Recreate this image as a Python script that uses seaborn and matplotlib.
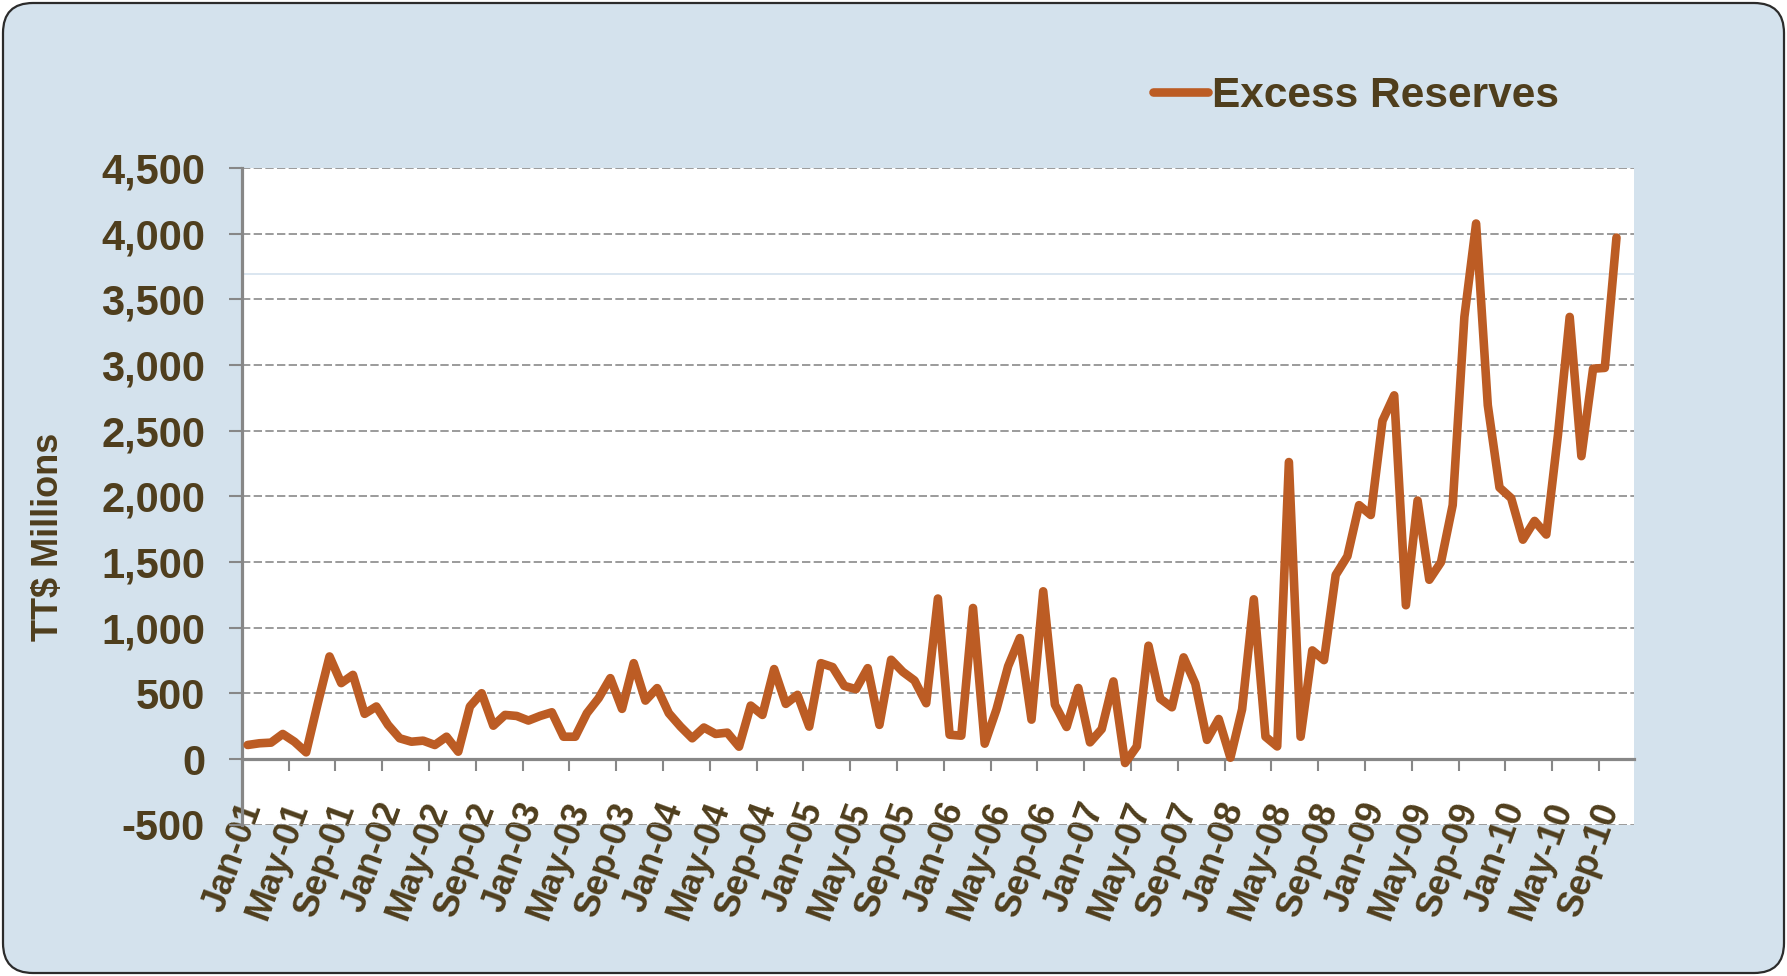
import pandas as pd
import matplotlib
matplotlib.use("Agg")
import matplotlib.pyplot as plt
from matplotlib.patches import FancyBboxPatch
from matplotlib.ticker import FuncFormatter
import seaborn as sns

# monthly excess reserves, TT$ millions, Jan-01 .. Oct-10
excess_reserves = [
    107, 120, 125, 191, 132, 51, 425, 781, 578, 641, 344, 400,
    260, 158, 132, 140, 107, 170, 56, 400, 501, 254, 336, 328,
    293, 328, 356, 170, 170, 349, 463, 616, 382, 730, 445, 540,
    349, 247, 158, 240, 191, 201, 94, 407, 336, 685, 420, 489,
    247, 730, 700, 557, 532, 692, 260, 756, 664, 598, 425, 1222,
    185, 178, 1150, 117, 376, 706, 921, 300, 1277, 414, 244, 541,
    127, 228, 591, -30, 96, 863, 460, 394, 774, 573, 146, 305,
    10, 379, 1216, 170, 96, 2261, 170, 827, 753, 1401, 1544, 1933,
    1858, 2575, 2769, 1171, 1968, 1365, 1499, 1933, 3366, 4077, 2694, 2067,
    1986, 1670, 1813, 1709, 2470, 3366, 2306, 2972, 2978, 3970,
]
# category axis runs Jan-01 .. Nov-10 (last category empty)
months = pd.date_range("2001-01-01", periods=119, freq="MS")
month_labels = [m.strftime("%b-%y") for m in months]
y_ticks = list(range(-500, 5000, 500))

line_color = "#BC5C24"
text_color = "#4F3E1D"
bg_color = "#D4E2ED"
axis_gray = "#878787"

sns.set_theme(style="white")
plt.rcParams["font.family"] = ["Liberation Sans", "DejaVu Sans"]
plt.rcParams["font.weight"] = "bold"

fig = plt.figure(figsize=(17.87, 9.76), dpi=100, facecolor="white")
fig.patches.append(FancyBboxPatch(
    (0.03, 0.03), 17.81, 9.70, boxstyle="round,pad=0,rounding_size=0.3",
    transform=fig.dpi_scale_trans, fc=bg_color, ec="#2B2B2B", lw=1.6, zorder=-10))

ax = fig.add_axes([0.1353, 0.155, 0.9144 - 0.1353, 0.8279 - 0.155])
ax.set_facecolor("white")

df = pd.DataFrame({"pos": range(len(excess_reserves)), "value": excess_reserves})
sns.lineplot(data=df, x="pos", y="value", ax=ax, color=line_color, lw=6.2,
             label="Excess Reserves", solid_joinstyle="round", solid_capstyle="round",
             zorder=5)

# faint stray line seen in the source image
ax.axhline(3690, color=bg_color, lw=1.2, zorder=1)

ax.set_xlim(-0.5, len(months) - 0.5)
ax.set_ylim(-500, 4500)
ax.set_yticks(y_ticks)
ax.yaxis.set_major_formatter(FuncFormatter(lambda v, p: f"{v:,.0f}"))
ax.yaxis.grid(True, linestyle=(0, (5, 2)), color="#8A8A8A", lw=1.2)
ax.xaxis.grid(False)
ax.set_axisbelow(True)

for s in ["top", "right"]:
    ax.spines[s].set_visible(False)
ax.spines["bottom"].set_position(("data", 0))
for s in ["left", "bottom"]:
    ax.spines[s].set_color(axis_gray)
    ax.spines[s].set_linewidth(2.3)
    ax.spines[s].set_zorder(3)

# tick marks between categories, labels on every 4th month
ax.set_xticks([k - 0.5 for k in range(4, len(months), 4)])
ax.set_xticklabels([])
label_idx = list(range(0, len(months), 4))
# rotated labels sit a little right of the category centre
ax.set_xticks([i + 0.4 for i in label_idx], minor=True)
ax.set_xticklabels([month_labels[i] for i in label_idx], minor=True)
ax.tick_params(axis="x", which="major", direction="out", length=8.4, width=1.5,
               color=axis_gray, bottom=True)
ax.tick_params(axis="x", which="minor", length=0, pad=32, labelsize=26,
               labelcolor=text_color)
for t in ax.get_xticklabels(minor=True):
    t.set_rotation(70)
    t.set_ha("right")
    t.set_va("center")
    t.set_rotation_mode("anchor")
    t.set_fontweight("bold")

ax.tick_params(axis="y", direction="out", length=9.4, width=1.5, color=axis_gray,
               left=True, pad=17, labelsize=30, labelcolor=text_color)
for t in ax.get_yticklabels():
    t.set_fontweight("bold")

ax.set_xlabel("")
ax.set_ylabel("")
fig.text(0.0269, 0.4498, "TT$ Millions", rotation=90, ha="center", va="center",
         fontsize=26, fontweight="bold", color=text_color)

ax.get_legend().remove()
handles, labels = ax.get_legend_handles_labels()
leg = fig.legend(handles, labels, loc="center left", bbox_to_anchor=(0.6452, 0.9016),
                 frameon=False, borderpad=0, borderaxespad=0, handlelength=1.3,
                 handletextpad=0.1, prop={"size": 30.5, "weight": "bold"})
for txt in leg.get_texts():
    txt.set_color(text_color)

fig.savefig("out.png", dpi=100, facecolor=fig.get_facecolor())
